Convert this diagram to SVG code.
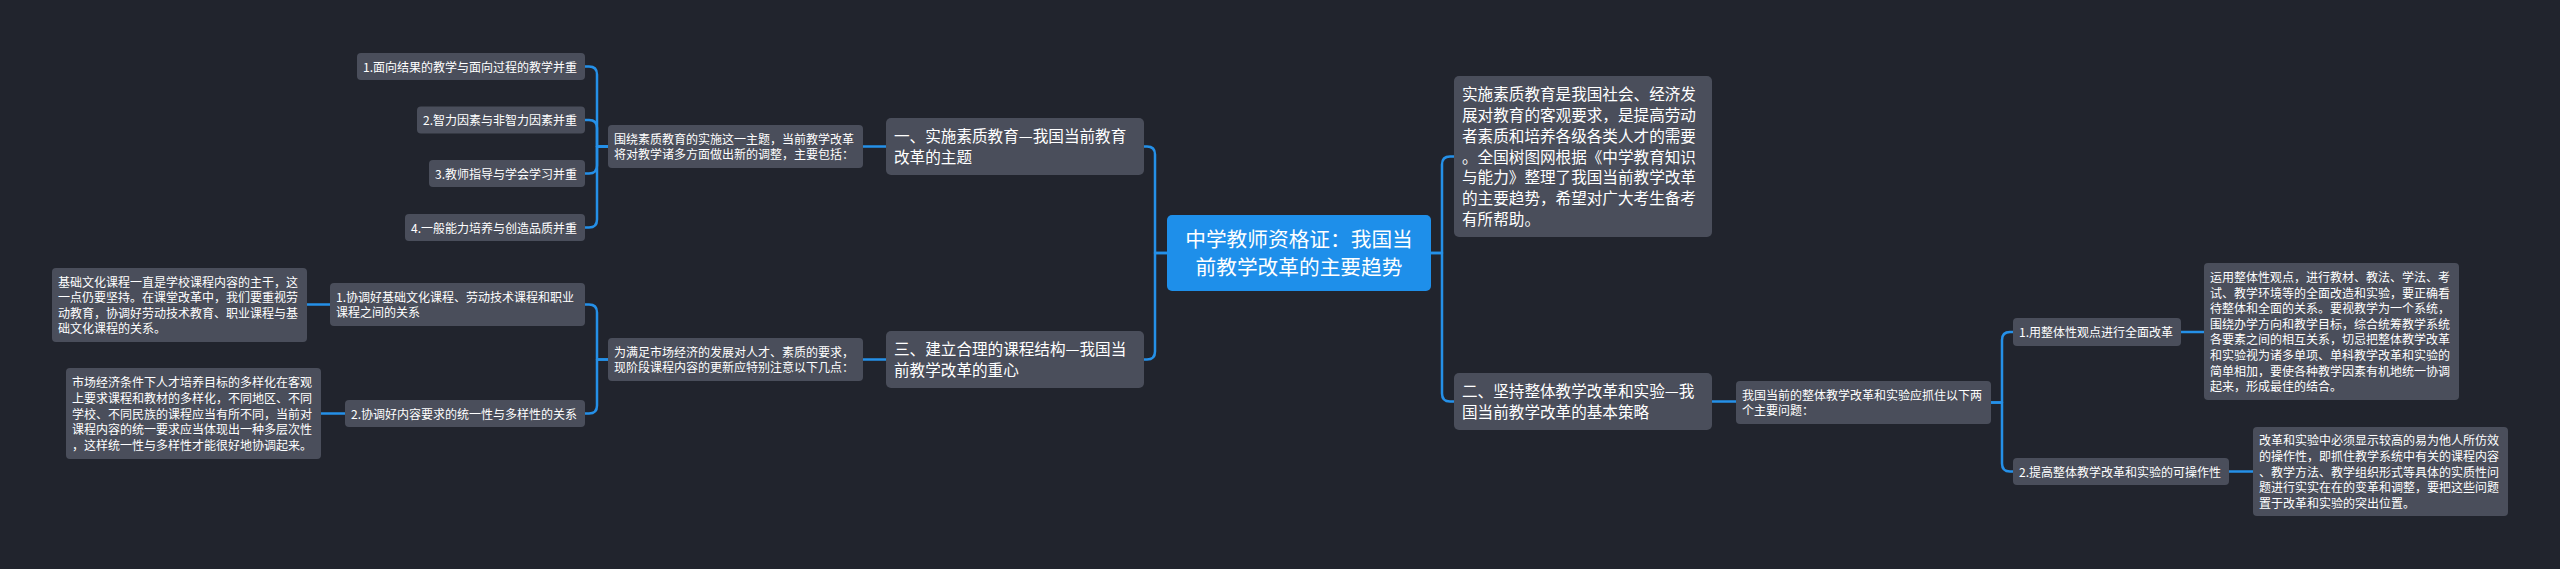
<svg xmlns="http://www.w3.org/2000/svg" width="2560" height="569" viewBox="0 0 2560 569">
<style>
.bg{fill:#21242d}
.n{fill:#4a4e5b}
.root{fill:#1e8fea}
.t{fill:#ffffff;font-family:"Noto Sans CJK SC","Noto Sans",sans-serif}
.s{font-size:12px}
.m{font-size:15.6px}
.r{font-size:20.7px}
.c{fill:none;stroke:#2590e8;stroke-width:2.5;stroke-linecap:round;stroke-linejoin:round}
</style>
<rect class="bg" x="0" y="0" width="2560" height="569"/>
<g id="connectors">
<path class="c" d="M1167,253 H1155 V154.5 Q1155,146.5 1147,146.5 H1144"/>
<path class="c" d="M1167,253 H1155 V351.5 Q1155,359.5 1147,359.5 H1144"/>
<path class="c" d="M1431,253 H1442 V164.5 Q1442,156.5 1450,156.5 H1454"/>
<path class="c" d="M1431,253 H1442 V393.5 Q1442,401.5 1450,401.5 H1454"/>
<path class="c" d="M886,146.5 H863"/>
<path class="c" d="M608,146.5 H597 V74.5 Q597,66.5 589,66.5 H585"/>
<path class="c" d="M608,146.5 H597 V128 Q597,120 589,120 H585"/>
<path class="c" d="M608,146.5 H597 V165.5 Q597,173.5 589,173.5 H585"/>
<path class="c" d="M608,146.5 H597 V219.5 Q597,227.5 589,227.5 H585"/>
<path class="c" d="M886,359.5 H863"/>
<path class="c" d="M608,359.5 H597 V312.5 Q597,304.5 589,304.5 H585"/>
<path class="c" d="M608,359.5 H597 V405.5 Q597,413.5 589,413.5 H585"/>
<path class="c" d="M330,304.5 H307"/>
<path class="c" d="M345,413.5 H321"/>
<path class="c" d="M1712,401.5 H1736"/>
<path class="c" d="M1991,402.5 H2002 V340 Q2002,332 2010,332 H2013"/>
<path class="c" d="M1991,402.5 H2002 V463.5 Q2002,471.5 2010,471.5 H2013"/>
<path class="c" d="M2181,332 H2204"/>
<path class="c" d="M2229,471.5 H2253"/>
</g>
<g id="root">
<rect class="root" x="1167" y="215" width="264" height="76" rx="5"/>
<text class="t r" text-anchor="middle"><tspan x="1299" y="246.7">中学教师资格证：我国当</tspan><tspan x="1299" y="274.7">前教学改革的主要趋势</tspan></text>
</g>
<g id="intro">
<rect class="n" x="1454" y="76" width="258" height="161" rx="5"/>
<text class="t m"><tspan x="1462" y="100.1">实施素质教育是我国社会、经济发</tspan><tspan x="1462" y="120.9">展对教育的客观要求，是提高劳动</tspan><tspan x="1462" y="141.7">者素质和培养各级各类人才的需要</tspan><tspan x="1462" y="162.5">。全国树图网根据《中学教育知识</tspan><tspan x="1462" y="183.3">与能力》整理了我国当前教学改革</tspan><tspan x="1462" y="204.1">的主要趋势，希望对广大考生备考</tspan><tspan x="1462" y="224.9">有所帮助。</tspan></text>
</g>
<g id="l1">
<rect class="n" x="886" y="118" width="258" height="57" rx="5"/>
<text class="t m"><tspan x="894" y="142.3">一、实施素质教育—我国当前教育</tspan><tspan x="894" y="162.8">改革的主题</tspan></text>
</g>
<g id="l1-sub">
<rect class="n" x="608" y="125" width="255" height="43" rx="4"/>
<text class="t s"><tspan x="614" y="143.7">围绕素质教育的实施这一主题，当前教学改革</tspan><tspan x="614" y="159.3">将对教学诸多方面做出新的调整，主要包括：</tspan></text>
</g>
<g id="a1">
<rect class="n" x="357" y="53" width="228" height="27" rx="4"/>
<text class="t s" x="363" y="71.5">1.面向结果的教学与面向过程的教学并重</text>
</g>
<g id="a2">
<rect class="n" x="417" y="106.5" width="168" height="27" rx="4"/>
<text class="t s" x="423" y="125">2.智力因素与非智力因素并重</text>
</g>
<g id="a3">
<rect class="n" x="429" y="160" width="156" height="27" rx="4"/>
<text class="t s" x="435" y="178.5">3.教师指导与学会学习并重</text>
</g>
<g id="a4">
<rect class="n" x="405" y="214" width="180" height="27" rx="4"/>
<text class="t s" x="411" y="232.5">4.一般能力培养与创造品质并重</text>
</g>
<g id="l3">
<rect class="n" x="886" y="331" width="258" height="57" rx="5"/>
<text class="t m"><tspan x="894" y="355.3">三、建立合理的课程结构—我国当</tspan><tspan x="894" y="375.8">前教学改革的重心</tspan></text>
</g>
<g id="l3-sub">
<rect class="n" x="608" y="338" width="255" height="43" rx="4"/>
<text class="t s"><tspan x="614" y="356.7">为满足市场经济的发展对人才、素质的要求，</tspan><tspan x="614" y="372.3">现阶段课程内容的更新应特别注意以下几点：</tspan></text>
</g>
<g id="b1">
<rect class="n" x="330" y="283" width="255" height="43" rx="4"/>
<text class="t s"><tspan x="336" y="301.7">1.协调好基础文化课程、劳动技术课程和职业</tspan><tspan x="336" y="317.3">课程之间的关系</tspan></text>
</g>
<g id="b1-detail">
<rect class="n" x="52" y="268" width="255" height="74" rx="4"/>
<text class="t s"><tspan x="58" y="286.6">基础文化课程一直是学校课程内容的主干，这</tspan><tspan x="58" y="302.2">一点仍要坚持。在课堂改革中，我们要重视劳</tspan><tspan x="58" y="317.8">动教育，协调好劳动技术教育、职业课程与基</tspan><tspan x="58" y="333.4">础文化课程的关系。</tspan></text>
</g>
<g id="b2">
<rect class="n" x="345" y="400" width="240" height="27" rx="4"/>
<text class="t s" x="351" y="418.5">2.协调好内容要求的统一性与多样性的关系</text>
</g>
<g id="b2-detail">
<rect class="n" x="66" y="368" width="255" height="91" rx="4"/>
<text class="t s"><tspan x="72" y="387.3">市场经济条件下人才培养目标的多样化在客观</tspan><tspan x="72" y="402.9">上要求课程和教材的多样化，不同地区、不同</tspan><tspan x="72" y="418.5">学校、不同民族的课程应当有所不同，当前对</tspan><tspan x="72" y="434.1">课程内容的统一要求应当体现出一种多层次性</tspan><tspan x="72" y="449.7">，这样统一性与多样性才能很好地协调起来。</tspan></text>
</g>
<g id="r2">
<rect class="n" x="1454" y="373" width="258" height="57" rx="5"/>
<text class="t m"><tspan x="1462" y="397.3">二、坚持整体教学改革和实验—我</tspan><tspan x="1462" y="417.8">国当前教学改革的基本策略</tspan></text>
</g>
<g id="r2-sub">
<rect class="n" x="1736" y="381" width="255" height="43" rx="4"/>
<text class="t s"><tspan x="1742" y="399.7">我国当前的整体教学改革和实验应抓住以下两</tspan><tspan x="1742" y="415.3">个主要问题：</tspan></text>
</g>
<g id="e1">
<rect class="n" x="2013" y="318" width="168" height="28" rx="4"/>
<text class="t s" x="2019" y="337">1.用整体性观点进行全面改革</text>
</g>
<g id="e1-detail">
<rect class="n" x="2204" y="263" width="255" height="137" rx="4"/>
<text class="t s"><tspan x="2210" y="281.9">运用整体性观点，进行教材、教法、学法、考</tspan><tspan x="2210" y="297.5">试、教学环境等的全面改造和实验，要正确看</tspan><tspan x="2210" y="313.1">待整体和全面的关系。要视教学为一个系统，</tspan><tspan x="2210" y="328.7">围绕办学方向和教学目标，综合统筹教学系统</tspan><tspan x="2210" y="344.3">各要素之间的相互关系，切忌把整体教学改革</tspan><tspan x="2210" y="359.9">和实验视为诸多单项、单科教学改革和实验的</tspan><tspan x="2210" y="375.5">简单相加，要使各种教学因素有机地统一协调</tspan><tspan x="2210" y="391.1">起来，形成最佳的结合。</tspan></text>
</g>
<g id="e2">
<rect class="n" x="2013" y="458" width="216" height="27" rx="4"/>
<text class="t s" x="2019" y="476.5">2.提高整体教学改革和实验的可操作性</text>
</g>
<g id="e2-detail">
<rect class="n" x="2253" y="427" width="255" height="89" rx="4"/>
<text class="t s"><tspan x="2259" y="445.3">改革和实验中必须显示较高的易为他人所仿效</tspan><tspan x="2259" y="460.9">的操作性，即抓住教学系统中有关的课程内容</tspan><tspan x="2259" y="476.5">、教学方法、教学组织形式等具体的实质性问</tspan><tspan x="2259" y="492.1">题进行实实在在的变革和调整，要把这些问题</tspan><tspan x="2259" y="507.7">置于改革和实验的突出位置。</tspan></text>
</g>
</svg>
